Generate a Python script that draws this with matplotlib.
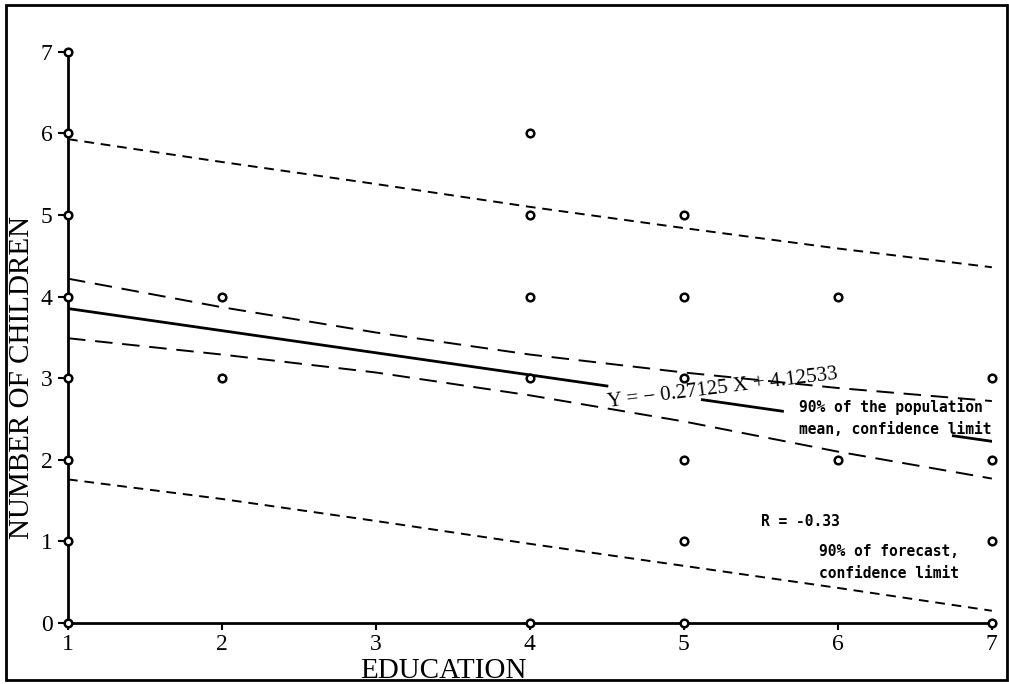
import numpy as np
import matplotlib.pyplot as plt
from matplotlib.patches import Rectangle

# Datos
edu = [1, 1, 1, 1, 1, 1, 1, 1, 2, 2, 4, 4, 4, 4, 4, 5, 5, 5, 5, 5, 5, 6, 6, 7, 7, 7, 7]
children = [0, 1, 2, 3, 4, 5, 6, 7, 3, 4, 0, 3, 4, 5, 6, 0, 1, 2, 3, 4, 5, 2, 4, 0, 1, 2, 3]

# Recta de regresion (tramos visibles entre los textos)
slope = -0.27125
intercept = 4.12533
regSegments = [(1.0, 4.5), (5.12, 5.64), (6.75, 7.0)]

bandX = [1, 2, 3, 4, 5, 6, 7]
meanUpper = [4.22, 3.87, 3.56, 3.29, 3.07, 2.88, 2.72]
meanLower = [3.49, 3.29, 3.07, 2.79, 2.47, 2.10, 1.77]
forecastUpper = [5.93, 5.65, 5.38, 5.10, 4.84, 4.59, 4.36]
forecastLower = [1.76, 1.52, 1.25, 0.97, 0.70, 0.43, 0.15]

serif = "Liberation Serif"
mono = "DejaVu Sans Mono"

fig = plt.figure(figsize=(10.09, 6.84), dpi=100)
ax = fig.add_axes([0.0674, 0.0892, 0.9156, 0.835])

#Marco exterior de la figura
fig.patches.append(Rectangle((0.006, 0.006), 0.992, 0.986, transform=fig.transFigure,
                             fill=False, edgecolor="black", linewidth=2))

#Bandas de confianza
ax.plot(bandX, forecastUpper, color="black", lw=1.4, dashes=(5, 3.5))
ax.plot(bandX, forecastLower, color="black", lw=1.4, dashes=(5, 3.5))
ax.plot(bandX, meanUpper, color="black", lw=1.4, dashes=(9, 5))
ax.plot(bandX, meanLower, color="black", lw=1.4, dashes=(9, 5))

#Recta de regresion
for x0, x1 in regSegments:
    xs = np.array([x0, x1])
    ax.plot(xs, slope * xs + intercept, color="black", lw=2)

#Puntos
ax.plot(edu, children, linestyle="none", marker="o", markersize=5.5,
        markerfacecolor="white", markeredgecolor="black", markeredgewidth=1.8,
        clip_on=False, zorder=5)

ax.set_xlim(1, 7)
ax.set_ylim(0, 7)
ax.set_xticks(range(1, 8))
ax.set_yticks(range(0, 8))
for side in ["top", "right"]:
    ax.spines[side].set_visible(False)
for side in ["left", "bottom"]:
    ax.spines[side].set_linewidth(2)
ax.tick_params(axis="y", direction="out", length=7, width=1.5, pad=4)
ax.tick_params(axis="x", direction="out", length=5, width=1.5, pad=3)
for lab in ax.get_xticklabels() + ax.get_yticklabels():
    lab.set_fontfamily(serif)
    lab.set_fontsize(17)

ax.set_xlabel("EDUCATION", fontfamily=serif, fontsize=21)
ax.set_ylabel("NUMBER OF CHILDREN", fontfamily=serif, fontsize=21)
ax.xaxis.set_label_coords(0.406, -0.062)
ax.yaxis.set_label_coords(-0.036, 0.43)

#Textos
ax.text(5.25, 2.88, "Y = \u2212 0.27125 X + 4.12533", fontfamily=serif, fontsize=15,
        rotation=7, ha="center", va="center")
ax.text(5.75, 2.51, "90% of the population\nmean, confidence limit", fontfamily=mono,
        fontweight="bold", fontsize=10.5, ha="left", va="center", linespacing=1.6)
ax.text(5.5, 1.24, "R = -0.33", fontfamily=mono, fontweight="bold", fontsize=10.5,
        ha="left", va="center")
ax.text(5.88, 0.74, "90% of forecast,\nconfidence limit", fontfamily=mono,
        fontweight="bold", fontsize=10.5, ha="left", va="center", linespacing=1.6)

fig.savefig("out.png", dpi=100)
